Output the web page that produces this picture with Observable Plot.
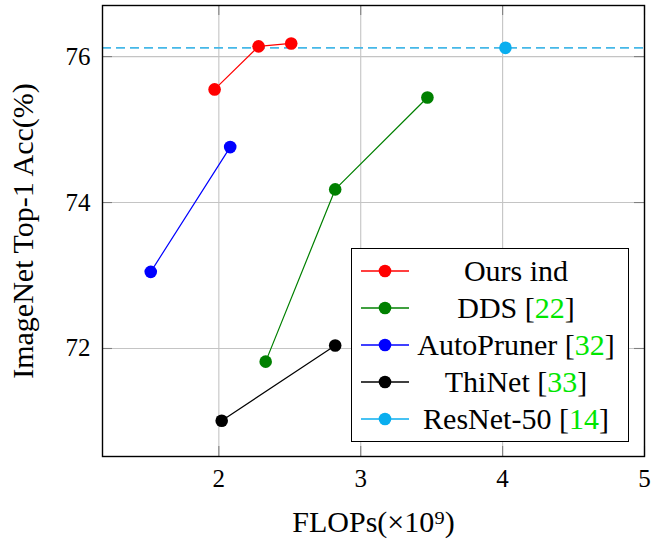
<!DOCTYPE html>
<html><head><meta charset="utf-8">
<script src="https://cdn.jsdelivr.net/npm/d3@7"></script>
<script src="https://cdn.jsdelivr.net/npm/@observablehq/plot@0.6"></script>
<style>
body{margin:0;background:#fff;}
#wrap{position:relative;width:670px;height:542px;font-family:"Liberation Serif","Times New Roman",serif;}
#wrap svg text{font-family:"Liberation Serif","Times New Roman",serif;font-variant-numeric:normal;}
#legend{position:absolute;left:351px;top:248px;width:278px;height:194px;border:1.4px solid #000;background:#fff;box-sizing:border-box;padding:4px 6px 4px 8px;}
.row{display:flex;align-items:center;height:36.9px;}
.row svg{flex:none;}
.row span.t{flex:1;text-align:center;font-size:30px;line-height:1;white-space:nowrap;}
.ref{color:#00e600;}
</style></head><body><div id="wrap"></div>
<script>
const series = ["Ours ind", "DDS", "AutoPruner", "ThiNet", "ResNet-50"];
const refs = ["", "22", "32", "33", "14"];
const colors = ["#ff0000", "#008000", "#0000ff", "#000000", "#0aaeef"];
const oursFlops = [1.97, 2.28, 2.51];
const oursAcc = [75.55, 76.14, 76.18];
const ddsFlops = [2.33, 2.82, 3.47];
const ddsAcc = [71.82, 74.18, 75.44];
const autoFlops = [1.52, 2.08];
const autoAcc = [73.05, 74.76];
const thiFlops = [2.02, 2.82];
const thiAcc = [71.01, 72.04];
const resFlops = [4.02];
const resAcc = [76.12];
const xTicks = [2, 3, 4, 5];
const yTicks = [72, 74, 76];

const groups = [[oursFlops, oursAcc], [ddsFlops, ddsAcc], [autoFlops, autoAcc], [thiFlops, thiAcc], [resFlops, resAcc]];
const data = groups.flatMap(([fx, ay], i) => fx.map((f, j) => ({s: series[i], f, a: ay[j]})));

const tickStyle = {stroke: "#808080", strokeWidth: 1.1};
const ff = "Liberation Serif, Times New Roman, serif";
const plot = Plot.plot({
  width: 670, height: 542,
  marginLeft: 102, marginRight: 26, marginTop: 5, marginBottom: 86,
  style: {fontFamily: ff, fontSize: "24px", background: "white", color: "#000"},
  x: {domain: [1.18, 5]},
  y: {domain: [70.52, 76.70]},
  color: {domain: series, range: colors},
  marks: [
    Plot.gridX(xTicks, {stroke: "#c4c4c4", strokeOpacity: 1, strokeWidth: 1.1}),
    Plot.gridY(yTicks, {stroke: "#c4c4c4", strokeOpacity: 1, strokeWidth: 1.1}),
    Plot.tickX(xTicks, {x: d => d, insetTop: 441, ...tickStyle}),
    Plot.tickX(xTicks, {x: d => d, insetBottom: 441, ...tickStyle}),
    Plot.tickY(yTicks, {y: d => d, insetRight: 532, ...tickStyle}),
    Plot.tickY(yTicks, {y: d => d, insetLeft: 532, ...tickStyle}),
    Plot.ruleY(resAcc, {y: d => d, stroke: "#45b8e8", strokeWidth: 1.6, strokeDasharray: "9,5"}),
    Plot.line(data, {x: "f", y: "a", z: "s", stroke: "s", strokeWidth: 1.2}),
    Plot.dot(data, {x: "f", y: "a", fill: "s", r: 6.3}),
    Plot.frame({stroke: "#000", strokeWidth: 1.4}),
    Plot.axisX(xTicks, {tickSize: 0, tickPadding: 13, fontSize: 25, fontFamily: ff, tickFormat: d => String(d), label: null}),
    Plot.axisX({ticks: [], label: "FLOPs(×10⁹)", labelAnchor: "center", labelOffset: 75, labelArrow: "none", fontSize: 30, fontFamily: ff}),
    Plot.axisY(yTicks, {tickSize: 0, tickPadding: 12, fontSize: 25, fontFamily: ff, tickFormat: d => String(d), label: null}),
    Plot.axisY({ticks: [], label: "ImageNet Top-1 Acc(%)", labelAnchor: "center", labelOffset: 91, labelArrow: "none", fontSize: 30, fontFamily: ff})
  ]
});
const wrap = document.getElementById("wrap");
wrap.appendChild(plot);

const leg = document.createElement("div");
leg.id = "legend";
series.forEach((s, i) => {
  const row = document.createElement("div");
  row.className = "row";
  row.innerHTML = `<svg width="50" height="16"><line x1="1" y1="8" x2="49" y2="8" stroke="${colors[i]}" stroke-width="1.4"/><circle cx="25" cy="8" r="6.3" fill="${colors[i]}"/></svg>` +
    `<span class="t">${s}${refs[i] ? ` [<span class="ref">${refs[i]}</span>]` : ""}</span>`;
  leg.appendChild(row);
});
wrap.appendChild(leg);
</script>
</body></html>
